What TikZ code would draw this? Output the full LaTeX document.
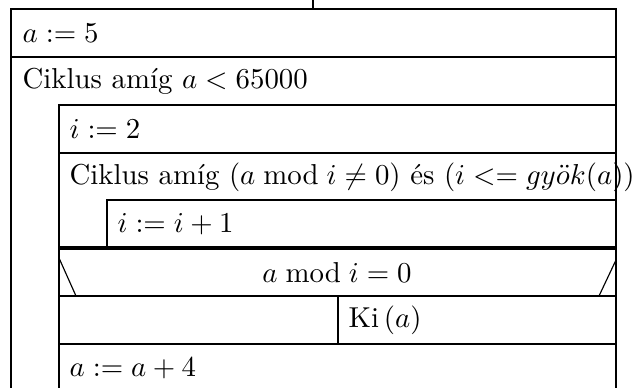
\documentclass[tikz,border=0pt]{standalone}
\usepackage{amsmath,amssymb}
\usepackage{tikz}
\usetikzlibrary{positioning}
\tikzset{
  sline/.style={line width=0.75pt,color=black},
  dline/.style={line width=0.4pt,color=black},
  stxt/.style={anchor=west,inner sep=0pt},
}
\begin{document}
\begin{tikzpicture}[x=0.347pt,y=-0.347pt]
    \useasboundingbox (0,0) rectangle (640,388);
    % frames of the blocks
    \draw[sline] (313,0) -- (313,9);
    \draw[sline] (11,388) -- (11,9) -- (616,9) -- (616,388);
    \draw[sline] (11,57) -- (616,57);
    \draw[sline] (59,388) -- (59,105) -- (616,105);
    \draw[sline] (59,153) -- (616,153);
    \draw[sline] (107,248) -- (107,200) -- (616,200);
    \draw[sline,line width=1.1pt] (59,248) -- (616,248);
    \draw[dline] (59,258) -- (76,296);
    \draw[dline] (616,260) -- (599,296);
    \draw[sline] (59,296) -- (616,296);
    \draw[sline] (338,296) -- (338,344);
    \draw[sline] (59,344) -- (616,344);
    % texts
    \node[stxt] (init) at (22,33) {$a := 5$};
    \node[stxt] (outer) at (22,81) {Ciklus amíg $a < 65000$};
    \node[stxt] (seti) at (69,129) {$i := 2$};
    \node[stxt] (inner) at (69,177) {Ciklus amíg $(a \bmod i \neq 0)$ és $(i <= gy\ddot{o}k(a))$};
    \node[stxt] (inci) at (117,224) {$i := i + 1$};
    \node (cond) at (337,272) {$a \bmod i = 0$};
    \node[stxt] (out) at (348,320) {Ki\,$(a)$};
    \node[stxt] (inca) at (69,368) {$a := a + 4$};
  \end{tikzpicture}
\end{document}
